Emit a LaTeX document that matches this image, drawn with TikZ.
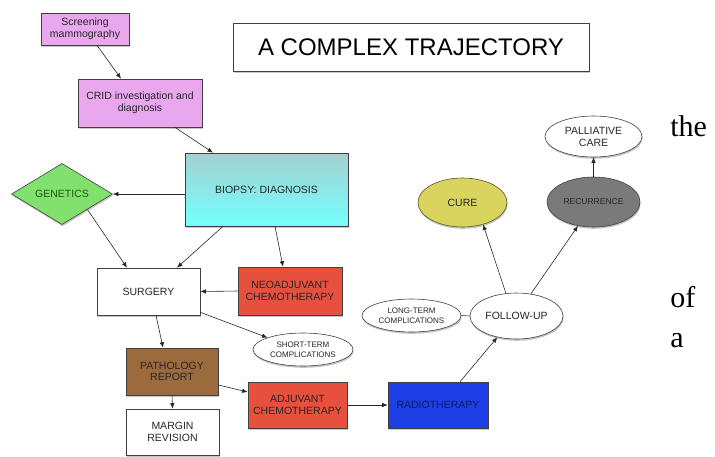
\documentclass[tikz,border=0pt]{standalone}
\usepackage{fontspec}
\setmainfont{Liberation Sans}
\newfontfamily\slidefont{Liberation Serif}
\usetikzlibrary{arrows.meta,shapes.geometric,shadows}
\definecolor{mauve}{HTML}{E9A8EE}
\definecolor{leaf}{HTML}{82E06E}
\definecolor{leafink}{HTML}{1E5A14}
\definecolor{tomato}{HTML}{E8503E}
\definecolor{umber}{HTML}{9B6B3E}
\definecolor{royal}{HTML}{1E3EE6}
\definecolor{navyink}{HTML}{0C1A66}
\definecolor{mustard}{HTML}{D8D45E}
\definecolor{slate}{HTML}{7A7A7A}
\begin{document}
\begin{tikzpicture}[x=1pt, y=-1pt, line width=0.6pt,
  block/.style={rectangle, draw=black!75, fill=white, align=center, inner sep=1pt,
    text=black!85, font=\fontsize{10.5}{11.5}\selectfont,
    drop shadow={shadow xshift=.6pt, shadow yshift=-1.8pt, opacity=.45}},
  oval/.style={ellipse, draw=black!75, fill=white, align=center, inner sep=0pt,
    text=black!85, font=\fontsize{10.5}{12}\selectfont,
    drop shadow={shadow xshift=.6pt, shadow yshift=-1.8pt, opacity=.45}},
  small/.style={font=\fontsize{8}{10}\selectfont},
  arr/.style={draw=black!85, -{Latex[length=5.5pt,width=4.5pt]}}]
  \useasboundingbox (0,0) rectangle (715,456);
  % title and slide words
  \node[block, minimum width=356pt, minimum height=48pt, text=black,
    font=\fontsize{24}{28}\selectfont] (title) at (411,47) {A COMPLEX TRAJECTORY};
  \node[anchor=base west, inner sep=0pt, font=\slidefont\fontsize{30}{30}\selectfont] (wthe) at (670,136) {the};
  \node[anchor=base west, inner sep=0pt, font=\slidefont\fontsize{30}{30}\selectfont] (wof) at (670,307) {of};
  \node[anchor=base west, inner sep=0pt, font=\slidefont\fontsize{30}{30}\selectfont] (wa) at (670,347) {a};
  % boxes
  \node[block, fill=mauve, minimum width=88pt, minimum height=32pt] (mammo) at (85,29) {Screening\\mammography};
  \node[block, fill=mauve, minimum width=124pt, minimum height=48pt] (crid) at (140,103) {CRID investigation and\\diagnosis};
  \node[block, top color=black!5!teal!35!white, bottom color=cyan!55!white, minimum width=163pt,
    minimum height=73pt] (biopsy) at (266.5,189.5) {BIOPSY: DIAGNOSIS};
  \node[block, diamond, fill=leaf, text=leafink, minimum width=101pt, minimum height=47pt,
    inner sep=0pt] (genetics) at (62,194) {GENETICS};
  \node[block, minimum width=103pt, minimum height=47pt] (surgery) at (148.5,291.5) {SURGERY};
  \node[block, fill=tomato, minimum width=104pt, minimum height=48pt] (neo) at (290,291) {NEOADJUVANT\\CHEMOTHERAPY};
  \node[oval, small, minimum width=100pt, minimum height=33pt] (shortc) at (303,349.5) {SHORT-TERM\\COMPLICATIONS};
  \node[block, fill=umber, minimum width=92pt, minimum height=47pt] (patho) at (172,371.5) {PATHOLOGY\\REPORT};
  \node[block, minimum width=93pt, minimum height=46pt] (margin) at (172.5,432) {MARGIN\\REVISION};
  \node[block, fill=tomato, minimum width=99pt, minimum height=46pt] (adj) at (297.5,405) {ADJUVANT\\CHEMOTHERAPY};
  \node[block, fill=royal, text=navyink, minimum width=100pt, minimum height=46pt] (radio) at (438,405) {RADIOTHERAPY};
  % outcomes
  \node[oval, small, minimum width=99pt, minimum height=33pt] (longc) at (411.5,315.5) {LONG-TERM\\COMPLICATIONS};
  \node[oval, minimum width=93pt, minimum height=46pt] (follow) at (516.5,316) {FOLLOW-UP};
  \node[oval, fill=mustard, draw=black!60!mustard, minimum width=89pt, minimum height=49pt] (cure) at (462.5,202.5) {CURE};
  \node[oval, fill=slate, text=black!85, font=\fontsize{8.5}{10}\selectfont, minimum width=93pt,
    minimum height=50pt] (recur) at (593.5,202) {RECURRENCE};
  \node[oval, minimum width=97pt, minimum height=41pt] (pall) at (593.5,136.5) {PALLIATIVE\\CARE};
  % connectors
  \draw[arr] ([xshift=12pt]mammo.south) -- ([xshift=-19pt]crid.north);
  \draw[arr] ([xshift=35pt]crid.south) -- ([xshift=-53.5pt]biopsy.north);
  \draw[arr] (biopsy.west |- genetics.east) -- (genetics.east);
  \draw[arr] (genetics.south east) -- ([xshift=-21.5pt]surgery.north);
  \draw[arr] ([xshift=-43.5pt]biopsy.south) -- ([xshift=28.5pt]surgery.north);
  \draw[arr] ([xshift=8.5pt]biopsy.south) -- ([xshift=-7pt]neo.north);
  \draw[arr] (neo.west) -- (surgery.east);
  \draw[arr] ([yshift=3pt]surgery.south east) -- (shortc.north west);
  \draw[arr] ([xshift=7.5pt]surgery.south) -- ([xshift=-9pt]patho.north);
  \draw[arr] (patho.south) -- (margin.north);
  \draw[arr] ([yshift=-13.5pt]patho.east) -- ([yshift=13pt]adj.west);
  \draw[arr] (adj.east) -- (radio.west);
  \draw[arr] ([xshift=22pt]radio.north) -- (follow.-132);
  \draw[draw=black!85] (longc.east) -- (follow.west);
  \draw[arr] (follow.115) -- (cure.-47);
  \draw[arr] (follow.57) -- (recur.-123);
  \draw[arr] (recur.north) -- (pall.south);
\end{tikzpicture}
\end{document}
